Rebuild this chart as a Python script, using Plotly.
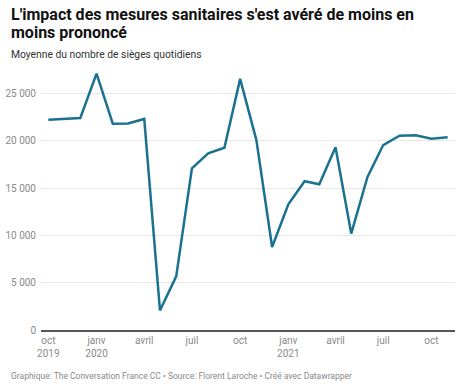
import plotly.graph_objects as go

months = ["2019-10-01", "2019-11-01", "2019-12-01", "2020-01-01", "2020-02-01", "2020-03-01",
          "2020-04-01", "2020-05-01", "2020-06-01", "2020-07-01", "2020-08-01", "2020-09-01",
          "2020-10-01", "2020-11-01", "2020-12-01", "2021-01-01", "2021-02-01", "2021-03-01",
          "2021-04-01", "2021-05-01", "2021-06-01", "2021-07-01", "2021-08-01", "2021-09-01",
          "2021-10-01", "2021-11-01"]
seats = [22250, 22300, 22420, 27120, 21820, 21850,
         22320, 2070, 5670, 17090, 18680, 19280,
         26560, 20090, 8780, 13300, 15740, 15420,
         19320, 10200, 16200, 19560, 20550, 20590,
         20230, 20380]

x_tick_vals = ["2019-10-01", "2020-01-01", "2020-04-01", "2020-07-01", "2020-10-01",
               "2021-01-01", "2021-04-01", "2021-07-01", "2021-10-01"]
x_tick_text = ["oct<br>2019", "janv<br>2020", "avril", "juil", "oct",
               "janv<br>2021", "avril", "juil", "oct"]
y_tick_vals = [0, 5000, 10000, 15000, 20000, 25000]
y_tick_text = ["0", "5 000", "10 000", "15 000", "20 000", "25 000"]

title_lines = ["L'impact des mesures sanitaires s'est avéré de moins en", "moins prononcé"]
subtitle = "Moyenne du nombre de sièges quotidiens"
footer = "Graphique: The Conversation France CC • Source: Florent Laroche • Créé avec Datawrapper"

W, H = 460, 385
ML, MR, MT, MB = 36, 5, 70, 55
PW, PH = W - ML - MR, H - MT - MB

fig = go.Figure()
fig.add_trace(go.Scatter(x=months, y=seats, mode="lines",
                         line=dict(color="#1b7290", width=2.5), hoverinfo="skip"))

fig.update_layout(
    width=W, height=H, margin=dict(l=ML, r=MR, t=MT, b=MB),
    paper_bgcolor="white", plot_bgcolor="white",
    font=dict(family="Roboto", color="#333"),
    showlegend=False,
    xaxis=dict(type="date", range=["2019-09-17", "2021-11-15"],
               tickvals=x_tick_vals, ticktext=x_tick_text, showgrid=False,
               showline=True, linecolor="#555", linewidth=1.5, ticks="",
               tickfont=dict(size=10, color="#8a8a8a"), zeroline=False),
    yaxis=dict(range=[0, 27500], tickvals=y_tick_vals, ticktext=y_tick_text,
               showgrid=True, gridcolor="#e6e6e6", gridwidth=1, zeroline=False,
               ticks="", ticklabelstandoff=4,
               tickfont=dict(size=10, color="#8a8a8a")),
)

def px_x(p):
    return (p - ML) / PW

def px_y(p):
    return (H - MB - p) / PH

anns = [
    dict(text="<b>" + title_lines[0] + "</b>", x=px_x(4), y=px_y(14), font=dict(size=16, color="#111")),
    dict(text="<b>" + title_lines[1] + "</b>", x=px_x(4), y=px_y(32), font=dict(size=16, color="#111")),
    dict(text=subtitle, x=px_x(4), y=px_y(54), font=dict(size=10.3, color="#333")),
    dict(text=footer, x=px_x(4), y=px_y(376), font=dict(size=8.5, color="#8a8a8a")),
]
for a in anns:
    fig.add_annotation(xref="paper", yref="paper", xanchor="left", yanchor="middle",
                       showarrow=False, **a)

fig.write_html("out.html")
